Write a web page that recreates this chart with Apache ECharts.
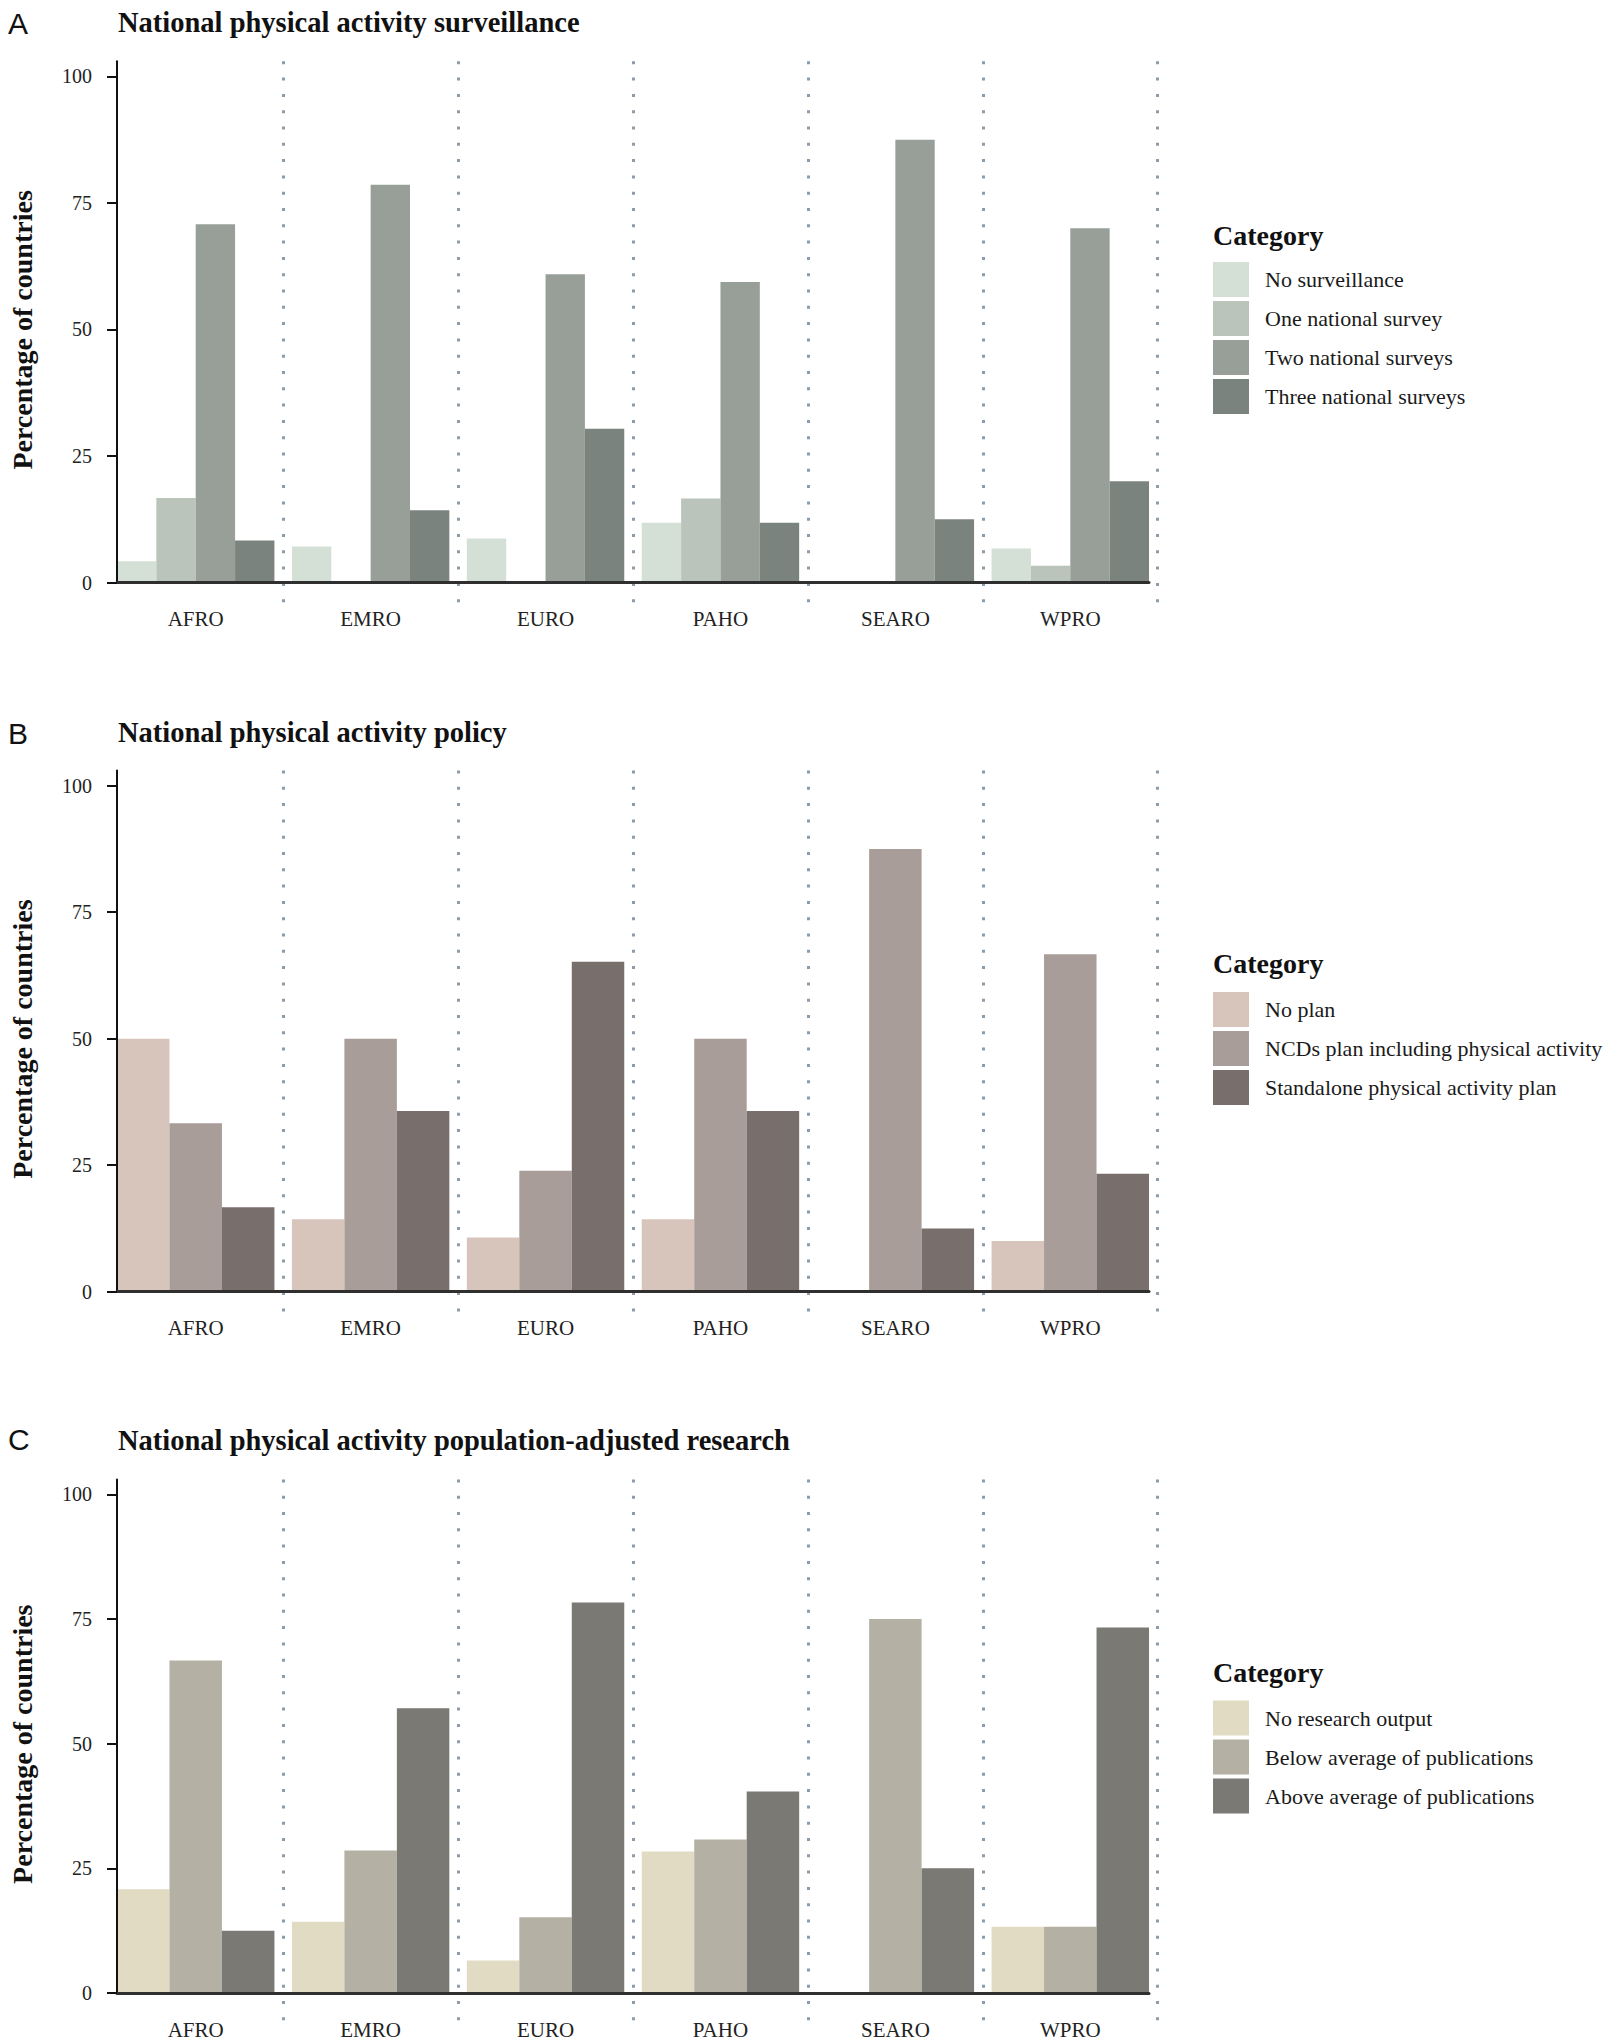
<!DOCTYPE html>
<html><head><meta charset="utf-8">
<script src="https://cdn.jsdelivr.net/npm/echarts@6/dist/echarts.min.js"></script>
<style>html,body{margin:0;padding:0;background:#fff}#c{width:1622px;height:2040px}</style>
</head><body><div id="c"></div>
<script>
// ---------------- data ----------------
const regions = ['AFRO', 'EMRO', 'EURO', 'PAHO', 'SEARO', 'WPRO'];
const yTicks = [0, 25, 50, 75, 100];

const surveillanceNames = ['No surveillance', 'One national survey', 'Two national surveys', 'Three national surveys'];
const noSurveillance = [4.2, 7.1, 8.7, 11.8, 0, 6.7];
const oneSurvey      = [16.7, 0, 0, 16.6, 0, 3.3];
const twoSurveys     = [70.8, 78.6, 60.9, 59.4, 87.5, 70.0];
const threeSurveys   = [8.3, 14.3, 30.4, 11.8, 12.5, 20.0];

const policyNames = ['No plan', 'NCDs plan including physical activity', 'Standalone physical activity plan'];
const noPlan         = [50.0, 14.3, 10.7, 14.3, 0, 10.0];
const ncdPlan        = [33.3, 50.0, 23.9, 50.0, 87.5, 66.7];
const standalonePlan = [16.7, 35.7, 65.2, 35.7, 12.5, 23.3];

const researchNames = ['No research output', 'Below average of publications', 'Above average of publications'];
const noResearch   = [20.8, 14.3, 6.5, 28.4, 0, 13.3];
const belowAverage = [66.7, 28.6, 15.2, 30.8, 75.0, 13.3];
const aboveAverage = [12.5, 57.1, 78.3, 40.4, 25.0, 73.3];

// ---------------- styles / layout ----------------
const surveillanceColors = ['#d4dfd5', '#bac4bb', '#979f98', '#7b837e'];
const policyColors = ['#d7c5bc', '#a89d98', '#786e6b'];
const researchColors = ['#e1dbc3', '#b4b1a4', '#7a7974'];

const SERIF = "'Liberation Serif', 'Times New Roman', serif";
const SANS = "'Liberation Sans', Arial, sans-serif";
const PLOT_LEFT = 117, PLOT_W = 1032, PLOT_H = 521.2;
const BAND = PLOT_W / 5.9;

const panels = [
  { letter: 'A', title: 'National physical activity surveillance', names: surveillanceNames,
    values: [noSurveillance, oneSurvey, twoSurveys, threeSurveys], colors: surveillanceColors,
    zeroY: 582.5, titleY: 24, letterY: 24, legendTitleY: 237, legendTop: 262 },
  { letter: 'B', title: 'National physical activity policy', names: policyNames,
    values: [noPlan, ncdPlan, standalonePlan], colors: policyColors,
    zeroY: 1291.7, titleY: 734, letterY: 734, legendTitleY: 965, legendTop: 992 },
  { letter: 'C', title: 'National physical activity population-adjusted research', names: researchNames,
    values: [noResearch, belowAverage, aboveAverage], colors: researchColors,
    zeroY: 2000.6, titleY: 1442, letterY: 1440, legendTitleY: 1674, legendTop: 1700.5 }
];

const grid = [], xAxis = [], yAxis = [], series = [], legend = [], graphic = [];
const positions = regions.map((_, k) => k + 1);

panels.forEach((p, i) => {
  const top = p.zeroY - PLOT_H;
  grid.push({ left: PLOT_LEFT, top: top, width: PLOT_W, height: PLOT_H });
  grid.push({ left: PLOT_LEFT + 0.95 * BAND, top: top, width: 5 * BAND, height: PLOT_H + 26.5 });
  const gb = 2 * i, gs = 2 * i + 1;

  xAxis.push({
    type: 'value', gridIndex: gb, min: 0.55, max: 6.45, z: 5,
    axisLine: { show: true, onZero: false, lineStyle: { color: '#2f2f2f', width: 3 } },
    axisTick: { show: false }, splitLine: { show: false },
    axisLabel: { customValues: positions, formatter: v => regions[Math.round(v) - 1] || '',
      margin: 26, fontSize: 21, fontFamily: SERIF, color: '#222' }
  });
  xAxis.push({
    type: 'value', gridIndex: gs, min: 1.5, max: 6.5, interval: 1,
    axisLine: { show: false }, axisTick: { show: false }, axisLabel: { show: false },
    splitLine: { show: true, lineStyle: { color: '#8d9caa', width: 3, type: [3, 13.3] } }
  });
  yAxis.push({
    type: 'value', gridIndex: gb, min: 0, max: 103, interval: 25, z: 5,
    axisLine: { show: true, onZero: false, lineStyle: { color: '#111', width: 2 } },
    axisTick: { show: true, length: 10, customValues: yTicks, lineStyle: { color: '#111', width: 2 } },
    axisLabel: { customValues: yTicks, margin: 25, fontSize: 20, fontFamily: SERIF, color: '#222' },
    splitLine: { show: false },
    name: 'Percentage of countries', nameLocation: 'middle', nameGap: 81, nameRotate: 90,
    nameTextStyle: { fontSize: 28, fontWeight: 'bold', fontFamily: SERIF, color: '#111', padding: [0, 16, 0, 0] }
  });
  yAxis.push({ type: 'value', gridIndex: gs, min: 0, max: 1, show: false });

  p.names.forEach((name, j) => {
    series.push({
      type: 'bar', name: name, xAxisIndex: gb, yAxisIndex: gb,
      data: p.values[j].map((v, k) => [positions[k], v]),
      itemStyle: { color: p.colors[j] },
      barGap: '0%', barCategoryGap: '10%',
      emphasis: { disabled: true }, silent: true
    });
  });

  legend.push({
    orient: 'vertical', left: 1213, top: p.legendTop, padding: 0,
    itemWidth: 36, itemHeight: 35, itemGap: 4, icon: 'rect', selectedMode: false,
    data: p.names,
    textStyle: { fontFamily: SERIF, fontSize: 22, color: '#1a1a1a', padding: [0, 0, 0, 11] }
  });

  graphic.push({ type: 'text', left: 8, top: p.letterY - 16,
    style: { text: p.letter, font: '30px ' + SANS, fill: '#111' } });
  graphic.push({ type: 'text', left: 118, top: p.titleY - 16,
    style: { text: p.title, font: 'bold 28.5px ' + SERIF, fill: '#111' } });
  graphic.push({ type: 'text', left: 1213, top: p.legendTitleY - 16,
    style: { text: 'Category', font: 'bold 28px ' + SERIF, fill: '#111' } });
});

const chart = echarts.init(document.getElementById('c'), null, { renderer: 'svg', width: 1622, height: 2040 });
chart.setOption({
  backgroundColor: '#ffffff',
  animation: false,
  tooltip: { show: false },
  grid, xAxis, yAxis, series, legend, graphic
});
</script></body></html>
